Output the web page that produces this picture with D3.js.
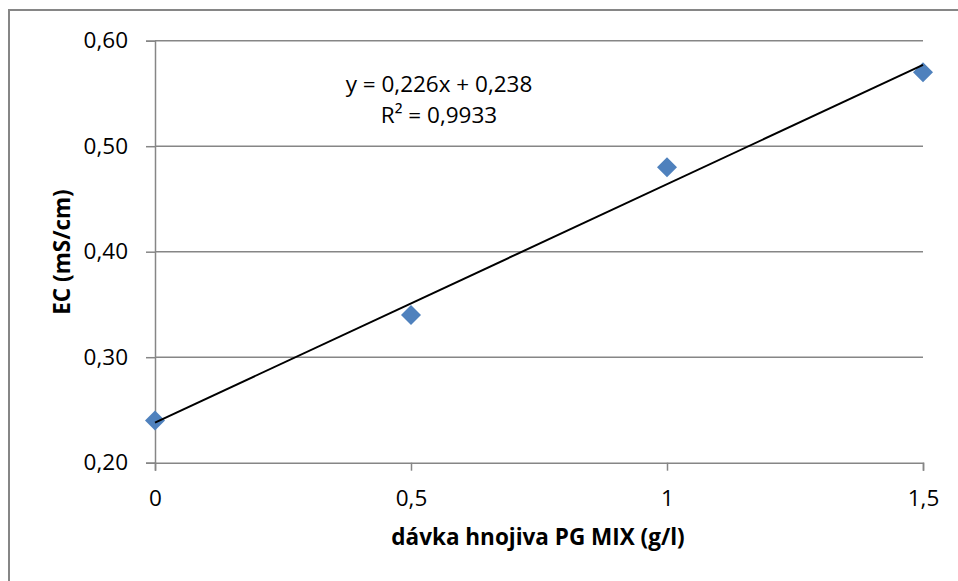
<!DOCTYPE html>
<html><head><meta charset="utf-8">
<script src="https://cdn.jsdelivr.net/npm/d3@7"></script>
<style>body{margin:0;background:#fff}svg{display:block}</style>
</head><body>
<script>
const xValues = [0, 0.5, 1, 1.5];
const yValues = [0.24, 0.34, 0.48, 0.57];
const xTicks = [0, 0.5, 1, 1.5];
const yTicks = [0.2, 0.3, 0.4, 0.5, 0.6];
const trendSlope = 0.226, trendIntercept = 0.238;
const eqLines = ["y = 0,226x + 0,238", "R² = 0,9933"];
const xTitle = "dávka hnojiva PG MIX (g/l)";
const yTitle = "EC (mS/cm)";

const W = 958, H = 581;
const font = "'Open Sans', sans-serif";
const fs = 22.5;
const svg = d3.select("body").append("svg").attr("width", W).attr("height", H);
svg.append("rect").attr("x", 9).attr("y", 10).attr("width", W + 10).attr("height", H + 10)
  .attr("fill", "#fff").attr("stroke", "#868686").attr("stroke-width", 2);

const x = d3.scaleLinear().domain([0, 1.5]).range([155, 923]);
const y = d3.scaleLinear().domain([0.2, 0.6]).range([462.7, 40.7]);
const fmt = d => String(d).replace(".", ",");
const gray = "#868686";

// gridlines
svg.append("g").selectAll("line").data(yTicks.filter(d => d > 0.2)).join("line")
  .attr("x1", x(0)).attr("x2", x(1.5)).attr("y1", d => y(d)).attr("y2", d => y(d))
  .attr("stroke", gray).attr("stroke-width", 1.5);

// y axis
const yAxis = svg.append("g").attr("transform", `translate(${x(0)},0)`)
  .call(d3.axisLeft(y).tickValues(yTicks).tickSize(9).tickPadding(18).tickFormat(d => d3.format(".2f")(d).replace(".", ",")));
// x axis
const xAxis = svg.append("g").attr("transform", `translate(0,${y(0.2)})`)
  .call(d3.axisBottom(x).tickValues(xTicks).tickSize(8).tickPadding(19).tickFormat(fmt));
[yAxis, xAxis].forEach(g => {
  g.select(".domain").attr("stroke", gray).attr("stroke-width", 1.5);
  g.selectAll(".tick line").attr("stroke", gray).attr("stroke-width", 1.5);
  g.selectAll("text").attr("font-family", font).attr("font-size", fs).attr("fill", "#000");
});

// points
svg.append("g").selectAll("path").data(xValues.map((v, i) => [v, yValues[i]])).join("path")
  .attr("transform", d => `translate(${x(d[0])},${y(d[1])})`)
  .attr("d", "M0,-10L10,0L0,10L-10,0Z").attr("fill", "#4F81BD");

// trendline
svg.append("line")
  .attr("x1", x(0)).attr("y1", y(trendIntercept))
  .attr("x2", x(1.5)).attr("y2", y(trendIntercept + trendSlope * 1.5))
  .attr("stroke", "#000").attr("stroke-width", 2);

// equation
svg.append("g").selectAll("text").data(eqLines).join("text")
  .attr("x", 439).attr("y", (d, i) => 92 + i * 31).attr("text-anchor", "middle")
  .attr("font-family", font).attr("font-size", fs).text(d => d);

// titles
svg.append("text").attr("x", 538).attr("y", 545).attr("text-anchor", "middle")
  .attr("font-family", font).attr("font-size", fs).attr("font-weight", "bold").text(xTitle);
svg.append("text").attr("transform", "translate(70,252) rotate(-90)").attr("text-anchor", "middle")
  .attr("font-family", font).attr("font-size", fs).attr("font-weight", "bold").text(yTitle);
</script>
</body></html>
